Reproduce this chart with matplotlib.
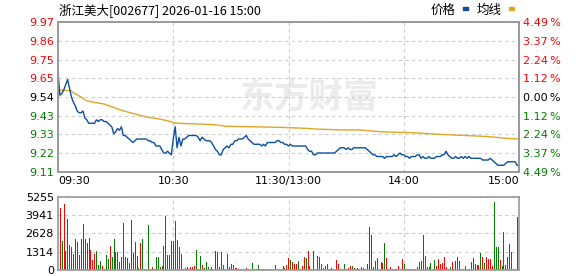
import numpy as np
import matplotlib
matplotlib.use("Agg")
import matplotlib.pyplot as plt
from matplotlib.patches import Rectangle

plt.rcParams['font.family'] = ['DejaVu Sans', 'Noto Sans CJK SC']

# chart data (minute 0 = 09:30, minute 240 = 15:00)
title = "浙江美大[002677] 2026-01-16 15:00"
pre_close = 9.54
pct_max = 4.49

price = [
    9.68, 9.55, 9.56, 9.58, 9.61, 9.64, 9.59, 9.54, 9.51, 9.49,
    9.46, 9.45, 9.45, 9.46, 9.42, 9.41, 9.39, 9.39, 9.39, 9.39,
    9.41, 9.40, 9.41, 9.41, 9.40, 9.40, 9.39, 9.38, 9.37, 9.33,
    9.34, 9.36, 9.35, 9.37, 9.32, 9.32, 9.31, 9.30, 9.29, 9.28,
    9.29, 9.30, 9.30, 9.30, 9.30, 9.30, 9.30, 9.29, 9.29, 9.28,
    9.28, 9.26, 9.26, 9.26, 9.24, 9.22, 9.22, 9.23, 9.22, 9.21,
    9.30, 9.37, 9.25, 9.31, 9.26, 9.30, 9.30, 9.31, 9.32, 9.32,
    9.32, 9.32, 9.32, 9.31, 9.29, 9.31, 9.30, 9.29, 9.29, 9.29,
    9.28, 9.26, 9.24, 9.23, 9.21, 9.21, 9.24, 9.25, 9.26, 9.25,
    9.27, 9.27, 9.29, 9.29, 9.30, 9.30, 9.30, 9.31, 9.32, 9.30,
    9.29, 9.28, 9.27, 9.27, 9.27, 9.27, 9.26, 9.27, 9.26, 9.28,
    9.28, 9.28, 9.28, 9.28, 9.29, 9.29, 9.28, 9.28, 9.27, 9.27,
    9.26, 9.27, 9.26, 9.26, 9.26, 9.26, 9.26, 9.26, 9.26, 9.26,
    9.24, 9.23, 9.23, 9.21, 9.21, 9.22, 9.22, 9.22, 9.22, 9.22,
    9.22, 9.22, 9.22, 9.22, 9.22, 9.23, 9.24, 9.25, 9.25, 9.25,
    9.24, 9.25, 9.24, 9.24, 9.25, 9.25, 9.25, 9.25, 9.25, 9.25,
    9.25, 9.24, 9.23, 9.22, 9.21, 9.21, 9.20, 9.20, 9.20, 9.20,
    9.19, 9.20, 9.20, 9.20, 9.20, 9.21, 9.20, 9.21, 9.22, 9.21,
    9.21, 9.20, 9.20, 9.19, 9.20, 9.20, 9.20, 9.21, 9.21, 9.19,
    9.20, 9.19, 9.19, 9.20, 9.19, 9.19, 9.19, 9.20, 9.20, 9.20,
    9.21, 9.21, 9.23, 9.21, 9.20, 9.19, 9.19, 9.20, 9.19, 9.19,
    9.20, 9.19, 9.20, 9.19, 9.20, 9.19, 9.19, 9.19, 9.19, 9.19,
    9.19, 9.18, 9.18, 9.18, 9.18, 9.19, 9.18, 9.17, 9.16, 9.15,
    9.15, 9.15, 9.15, 9.16, 9.17, 9.17, 9.17, 9.17, 9.17, 9.15,
    9.15,
]

avg_t = [0, 1, 7, 8, 12, 15, 19, 24, 29, 34, 40, 47, 53, 59, 60, 67, 78,
         83, 87, 115, 129, 136, 148, 157, 163, 169, 187, 196, 208, 221,
         227, 232, 239, 240]
avg_v = [9.60, 9.58, 9.575, 9.565, 9.54, 9.518, 9.509, 9.50, 9.48, 9.461,
         9.443, 9.424, 9.414, 9.399, 9.392, 9.388, 9.384, 9.38, 9.373,
         9.367, 9.361, 9.356, 9.352, 9.352, 9.346, 9.341, 9.335, 9.328,
         9.322, 9.316, 9.311, 9.305, 9.301, 9.30]

# volume per minute from 09:31 on; vol_dir: r = up bar, g = down bar
vol = [
    4490, 2080, 4730, 1360, 3660, 1790, 1650, 1150, 2220, 2010,
    1080, 2220, 3300, 2220, 1940, 2290, 1430, 720, 1150, 1360,
    360, 650, 290, 70, 1080, 790, 1720, 930, 2220, 1290,
    1290, 570, 930, 3370, 930, 860, 500, 3590, 1220, 2010,
    1000, 140, 1940, 2220, 70, 70, 3230, 70, 220, 70,
    930, 930, 220, 290, 1720, 3870, 1080, 1080, 2080, 2080,
    3510, 2150, 1650, 1150, 70, 140, 220, 70, 220, 220,
    290, 1430, 70, 1000, 360, 140,
    570, 220, 70, 220, 70, 1360, 1290, 220, 1290, 360,
    70, 1150, 220, 430, 360, 140, 140, 70, 70, 70,
    70, 140, 70, 70, 500, 70, 70, 360, 70, 70,
    70, 70, 70, 70, 70, 70, 360, 70, 70, 70,
    290, 140, 360, 860, 720, 570, 430, 430, 650, 70,
    290, 930, 860, 1360, 290, 70, 1360, 70, 1000, 930,
    430, 140, 290, 430, 70, 140, 70, 70, 720, 430, 70,
    70, 430, 70, 140, 290, 290, 140, 70, 140, 70, 220, 140,
    70, 430, 3080, 2510, 220, 650, 860, 70, 570, 500,
    1940, 860, 70, 220, 70, 70, 70, 290, 70, 790,
    430, 70, 70, 70, 70, 70, 70, 220, 570, 650, 2510,
    1000, 220, 220, 500, 70, 720, 290, 790, 430, 500,
    930, 220, 70, 220, 570, 70, 650, 930, 650, 70, 70,
    290, 70, 70, 570, 860, 430, 360, 360, 1220, 930,
    500, 930, 790, 790, 290, 4880, 1650, 1650, 720, 290,
    2720, 360, 930, 1860, 1290, 70, 70, 3800,
]
vol_dir = list(
    "rgrrrggggg" "grggrgrrrg" "ggrrggrggg" "rgrgrggggr"
    "rgrgrrgrrr" "ggrgggrrgr" "rgrgrrrrrr" "rgrgrg"
    "ggrrggrggr" "rgrgrrrggg" "grggggrggr" "ggrrrrrrrr"
    "ggrrgrrrgr" "rrgrrggrrg" "rrrgrrgrrrg" "ggrrrgrrrrrr"
    "rggggrgrrr" "grrrrgrrrr" "grrggrrrrgg" "rrrgrgrrrr"
    "rrggrrggrrr" "gggrgrrrgr" "grrrrgggrg" "rrrrrggg"
)

vol_ticks = [0, 1314, 2628, 3941, 5255]
price_labels = ["9.11", "9.22", "9.33", "9.43", "9.54", "9.65", "9.75", "9.86", "9.97"]
pct_labels = ["4.49", "3.37", "2.24", "1.12", "0.00", "1.12", "2.24", "3.37", "4.49"]
time_ticks = [0, 60, 120, 180, 240]
time_labels = ["09:30", "10:30", "11:30/13:00", "14:00", "15:00"]

RED = "#ff0000"
GREEN = "#008000"
BLUE = "#0b4f9e"
GOLD = "#e0a526"
FRAME = "#999999"
GRID = "#cccccc"

W, H = 578, 276
fig = plt.figure(figsize=(W / 100, H / 100), dpi=100)
ax = fig.add_axes([58 / W, 1 - 172 / H, 461 / W, 150 / H])
axv = fig.add_axes([58 / W, 1 - 270 / H, 461 / W, 73 / H])

lo = pre_close * (1 - pct_max / 100)
hi = pre_close * (1 + pct_max / 100)
yt = np.linspace(lo, hi, len(price_labels))
label_colors = [GREEN] * 4 + ["black"] + [RED] * 4

# price panel
ax.plot(np.arange(len(price)), price, color=BLUE, lw=1.0, zorder=3)
ax.plot(avg_t, avg_v, color=GOLD, lw=1.0, zorder=2)
ax.set_xlim(0, 240)
ax.set_ylim(lo, hi)
ax.set_yticks(yt)
ax.set_yticklabels(price_labels)
ax.set_xticks(time_ticks)
ax.set_xticklabels(time_labels)
ax.tick_params(length=0, labelsize=8, pad=3)
for lab, c in zip(ax.get_yticklabels(), label_colors):
    lab.set_color(c)
xl = ax.get_xticklabels()
xl[0].set_ha("left")
xl[-1].set_ha("right")
ax.grid(True, ls=(0, (3, 3)), color=GRID, lw=0.8)
ax.set_axisbelow(True)

axr = ax.twinx()
axr.set_ylim(lo, hi)
axr.set_yticks(yt)
axr.set_yticklabels([p + "\u2009%" for p in pct_labels])
axr.tick_params(length=0, labelsize=8, pad=3)
for lab, c in zip(axr.get_yticklabels(), label_colors):
    lab.set_color(c)

for a in (ax, axr, axv):
    for s in a.spines.values():
        s.set_color(FRAME)
        s.set_linewidth(1.2)

# watermark
ax.text(0.545, 0.5, "东方财富", transform=ax.transAxes, ha="center", va="center",
        fontsize=25, fontweight="bold", color="#ebebeb", zorder=0,
        family=["Noto Sans CJK SC"])

# volume panel
colors = [RED if d == "r" else GREEN for d in vol_dir]
axv.vlines(np.arange(1, len(vol) + 1) - 0.1, 0, vol, colors=colors,
           linewidth=0.55, antialiased=False, zorder=2)
axv.set_xlim(0, 240)
axv.set_ylim(0, vol_ticks[-1])
axv.set_yticks(vol_ticks)
axv.set_yticklabels([str(v) for v in vol_ticks])
axv.set_xticks(time_ticks[1:-1])
axv.set_xticklabels([])
axv.tick_params(length=0, labelsize=8, pad=3)
axv.grid(True, ls=(0, (3, 3)), color=GRID, lw=0.8)
axv.set_axisbelow(True)

# header
fig.text(59 / W, 1 - 10 / H, title, ha="left", va="center", fontsize=9,
         family=["Noto Sans CJK SC", "DejaVu Sans"])
fig.text(456 / W, 1 - 10 / H, "价格", ha="right", va="center", fontsize=9,
         family=["Noto Sans CJK SC"])
fig.text(502 / W, 1 - 10 / H, "均线", ha="right", va="center", fontsize=9,
         family=["Noto Sans CJK SC"])
fig.add_artist(Rectangle((463 / W, 1 - 10 / H), 5 / W, 3 / H, color=BLUE,
                         transform=fig.transFigure))
fig.add_artist(Rectangle((509 / W, 1 - 10 / H), 5 / W, 3 / H, color=GOLD,
                         transform=fig.transFigure))

fig.savefig("out.png", dpi=100)
